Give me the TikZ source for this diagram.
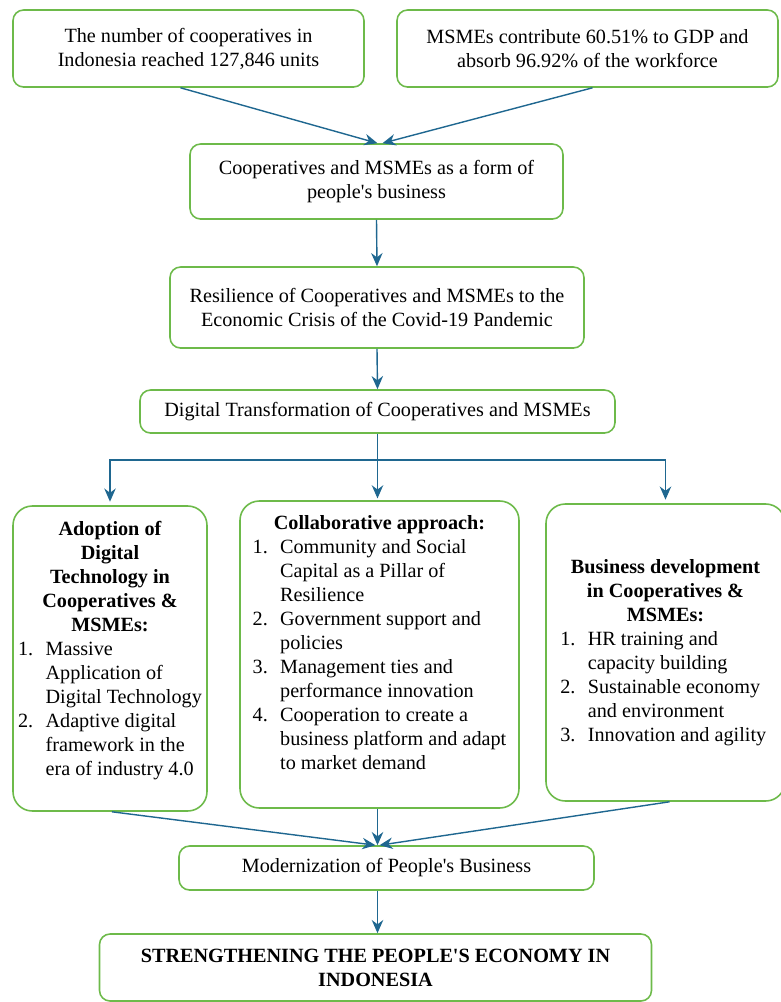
\documentclass[tikz,border=0pt]{standalone}
\usepackage{fontspec}
\setmainfont{Liberation Serif}
\usepackage{xcolor}
\usetikzlibrary{arrows.meta, positioning, calc}
\definecolor{boxgreen}{HTML}{6DBA4A}
\definecolor{flowblue}{HTML}{1F6790}

\begin{document}
\begin{tikzpicture}[
    x=0.02cm, y=-0.02cm,
    font=\fontsize{11.5}{13.66}\selectfont,
    box/.style={rectangle, draw=boxgreen, rounded corners=6pt, line width=0.9pt,
                align=center, inner sep=0pt},
    bigbox/.style={box, rounded corners=11pt},
    arrow/.style={-{Stealth[length=7.5pt, width=6.5pt]}, line width=0.8pt, draw=flowblue},
    line/.style={line width=0.8pt, draw=flowblue},
]
  \useasboundingbox (0,0) rectangle (781,1002);

  % Facts at the top
  \node[box, minimum width=351*0.02cm, minimum height=77*0.02cm] (coops) at (188.5,48.5)
    {The number of cooperatives in\\Indonesia reached 127,846 units};
  \node[box, minimum width=381*0.02cm, minimum height=77*0.02cm] (msmes) at (587.5,48.5)
    {MSMEs contribute 60.51\% to GDP and\\absorb 96.92\% of the workforce};

  % Main chain
  \node[box, minimum width=373*0.02cm, minimum height=75*0.02cm] (peoplebiz) at (376.5,181.5)
    {Cooperatives and MSMEs as a form of\\people\textquotesingle s business};
  \node[box, minimum width=414*0.02cm, minimum height=81*0.02cm] (resilience) at (377,307.5)
    {Resilience of Cooperatives and MSMEs to the\\Economic Crisis of the Covid-19 Pandemic};
  \node[box, minimum width=475*0.02cm, minimum height=43*0.02cm] (digital) at (377.5,411.5)
    {Digital Transformation of Cooperatives and MSMEs};

  % Three branches
  \node[bigbox, minimum width=194*0.02cm, minimum height=305*0.02cm] (adopt) at (110,658.5)
    {\begin{tabular}{@{}l@{\hspace{7pt}}l@{}}
      \multicolumn{2}{c}{\bfseries Adoption of}\\
      \multicolumn{2}{c}{\bfseries Digital}\\
      \multicolumn{2}{c}{\bfseries Technology in}\\
      \multicolumn{2}{c}{\bfseries Cooperatives \&}\\
      \multicolumn{2}{c}{\bfseries MSMEs:}\\
      1. & Massive\\
         & Application of\\
         & Digital Technology\\
      2. & Adaptive digital\\
         & framework in the\\
         & era of industry 4.0\\[9pt]
    \end{tabular}};
  \node[bigbox, minimum width=279*0.02cm, minimum height=307*0.02cm] (collab) at (379.5,654.5)
    {\begin{tabular}{@{}l@{\hspace{7pt}}l@{}}
      \multicolumn{2}{c}{\bfseries Collaborative approach:}\\
      1. & Community and Social\\
         & Capital as a Pillar of\\
         & Resilience\\
      2. & Government support and\\
         & policies\\
      3. & Management ties and\\
         & performance innovation\\
      4. & Cooperation to create a\\
         & business platform and adapt\\
         & to market demand\\[11pt]
    \end{tabular}};
  \node[bigbox, minimum width=239*0.02cm, minimum height=297*0.02cm] (bizdev) at (665.5,652.5)
    {\begin{tabular}{@{}l@{\hspace{7pt}}l@{}}
      \multicolumn{2}{c}{\bfseries Business development}\\
      \multicolumn{2}{c}{\bfseries in Cooperatives \&}\\
      \multicolumn{2}{c}{\bfseries MSMEs:}\\
      1. & HR training and\\
         & capacity building\\
      2. & Sustainable economy\\
         & and environment\\
      3. & Innovation and agility
    \end{tabular}};

  % Outcome
  \node[box, minimum width=415*0.02cm, minimum height=44*0.02cm] (modern) at (386.5,868)
    {Modernization of People\textquotesingle s Business};
  \node[box, minimum width=552*0.02cm, minimum height=67*0.02cm] (final) at (375.5,967.5)
    {\bfseries STRENGTHENING THE PEOPLE\textquotesingle S ECONOMY IN\\\bfseries INDONESIA};

  % Arrows
  \draw[arrow] ([xshift=-8*0.02cm]coops.south) -- ([xshift=1*0.02cm]peoplebiz.north);
  \draw[arrow] ([xshift=5*0.02cm]msmes.south) -- ([xshift=6*0.02cm]peoplebiz.north);
  \draw[arrow] (peoplebiz.south) -- (resilience.north);
  \draw[arrow] (resilience.south) -- (digital.north);

  \coordinate (fork) at (377.5,460);
  \draw[line] (digital.south) -- (fork);
  \draw[arrow, shorten >=2pt] (fork) -| (adopt.north);
  \draw[arrow, shorten >=1pt] (fork) -- (fork |- collab.north);
  \draw[arrow, shorten >=2pt] (fork) -| (bizdev.north);

  \draw[arrow] ([xshift=2*0.02cm]adopt.south) -- ([xshift=-11*0.02cm]modern.north);
  \draw[arrow] ([xshift=-2*0.02cm]collab.south) -- ([xshift=-9*0.02cm]modern.north);
  \draw[arrow] ([xshift=4*0.02cm]bizdev.south) -- ([xshift=-7*0.02cm]modern.north);
  \draw[arrow] ([xshift=-9*0.02cm]modern.south) -- ([xshift=2*0.02cm]final.north);
\end{tikzpicture}
\end{document}
